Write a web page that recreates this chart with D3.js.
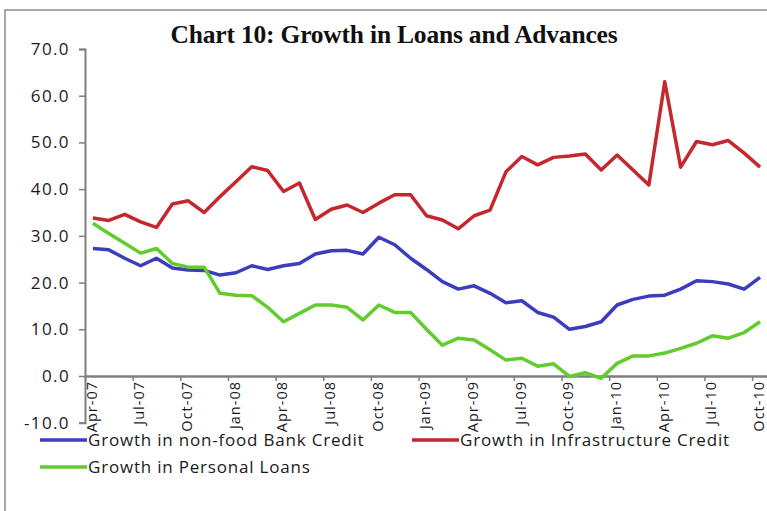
<!DOCTYPE html>
<html>
<head>
<meta charset="utf-8">
<script src="https://cdn.jsdelivr.net/npm/d3@7"></script>
<style>
  body { margin: 0; background: #fff; }
  svg text { font-family: "Open Sans", "Noto Sans", sans-serif; }
</style>
</head>
<body>
<div id="chart"></div>
<script>
// months Apr-07 .. Oct-10
var months = ["Apr-07","May-07","Jun-07","Jul-07","Aug-07","Sep-07","Oct-07","Nov-07","Dec-07",
    "Jan-08","Feb-08","Mar-08","Apr-08","May-08","Jun-08","Jul-08","Aug-08","Sep-08","Oct-08","Nov-08","Dec-08",
    "Jan-09","Feb-09","Mar-09","Apr-09","May-09","Jun-09","Jul-09","Aug-09","Sep-09","Oct-09","Nov-09","Dec-09",
    "Jan-10","Feb-10","Mar-10","Apr-10","May-10","Jun-10","Jul-10","Aug-10","Sep-10","Oct-10"];

var bankCredit = [27.3, 27.0, 25.2, 23.6, 25.2, 23.1, 22.7, 22.6, 21.6, 22.1, 23.6, 22.8, 23.6, 24.1, 26.1,
    26.8, 26.9, 26.1, 29.7, 28.1, 25.2, 22.8, 20.2, 18.6, 19.3, 17.7, 15.7, 16.1, 13.6, 12.6, 10.0, 10.6,
    11.6, 15.2, 16.4, 17.1, 17.3, 18.6, 20.4, 20.2, 19.7, 18.6, 21.1];

var infraCredit = [33.8, 33.3, 34.6, 33.0, 31.8, 36.8, 37.5, 35.0, 38.4, 41.6, 44.8, 44.0, 39.5, 41.3, 33.5,
    35.7, 36.6, 35.0, 37.0, 38.8, 38.8, 34.3, 33.4, 31.5, 34.3, 35.5, 43.7, 47.0, 45.2, 46.8, 47.1, 47.5,
    44.1, 47.3, 44.1, 40.9, 63.0, 44.7, 50.2, 49.5, 50.4, 47.7, 44.7];

var personalLoans = [32.7, 30.5, 28.4, 26.3, 27.3, 24.1, 23.3, 23.3, 17.7, 17.3, 17.2, 14.7, 11.6, 13.4, 15.2,
    15.2, 14.7, 12.0, 15.2, 13.6, 13.6, 10.0, 6.6, 8.1, 7.7, 5.6, 3.4, 3.8, 2.1, 2.6, -0.1, 0.7,
    -0.5, 2.7, 4.3, 4.3, 4.9, 5.9, 7.0, 8.6, 8.1, 9.3, 11.6];

var yTicks = [-10, 0, 10, 20, 30, 40, 50, 60, 70];

var series = [
    { name: "Growth in non-food Bank Credit", values: bankCredit, color: "#3b3dbd" },
    { name: "Growth in Infrastructure Credit", values: infraCredit, color: "#c4282e" },
    { name: "Growth in Personal Loans", values: personalLoans, color: "#62cc2c" }
];

var width = 767, height = 511;

var svg = d3.select("#chart")
    .append("svg")
    .attr("width", width)
    .attr("height", height);

// outer frame
svg.append("rect")
    .attr("x", 5).attr("y", 10)
    .attr("width", 800).attr("height", 600)
    .attr("fill", "none")
    .attr("stroke", "#8c8c8c")
    .attr("stroke-width", 1.5);

// title
svg.append("text")
    .attr("x", 394)
    .attr("y", 43)
    .attr("text-anchor", "middle")
    .style("font-family", "'Liberation Serif', 'DejaVu Serif', serif")
    .style("font-weight", "bold")
    .style("font-size", "25.5px")
    .style("letter-spacing", "-0.2px")
    .attr("fill", "#111")
    .text("Chart 10: Growth in Loans and Advances");

// scales
var x = d3.scaleBand()
    .domain(months)
    .range([85, 768]);

var xi = d3.scaleLinear()
    .domain([0, months.length])
    .range([85, 768]);

var y = d3.scaleLinear()
    .domain([-10, 70])
    .range([422.7, 49]);

// Y axis
var yAxis = svg.append("g")
    .attr("transform", "translate(85,0)")
    .call(d3.axisLeft(y).tickValues(yTicks).tickSize(6).tickPadding(9)
        .tickFormat(function (d) { return d.toFixed(1); }));
yAxis.select(".domain").attr("stroke", "#7f7f7f").attr("stroke-width", 2);
yAxis.selectAll(".tick line").attr("stroke", "#7f7f7f").attr("stroke-width", 1.5);
yAxis.selectAll(".tick text")
    .style("font-size", "17px")
    .style("letter-spacing", "1.4px")
    .attr("fill", "#1a1a1a");

// X axis at zero
var tickIdx = d3.range(0, months.length, 3);
var xAxis = svg.append("g")
    .attr("transform", "translate(0," + y(0) + ")")
    .call(d3.axisBottom(xi).tickValues(tickIdx).tickSize(5).tickSizeOuter(0).tickFormat(""));
xAxis.select(".domain").attr("stroke", "#7f7f7f").attr("stroke-width", 2.5);
xAxis.selectAll(".tick line").attr("stroke", "#7f7f7f").attr("stroke-width", 1.5);

// rotated month labels
svg.append("g")
    .selectAll("text")
    .data(tickIdx)
    .enter()
    .append("text")
    .attr("transform", function (d) {
        return "translate(" + (x(months[d]) + x.bandwidth() / 2 - 1) + "," + (y(0) + 5) + ") rotate(-90)";
    })
    .attr("dy", "0.33em")
    .attr("text-anchor", "end")
    .style("font-size", "14.5px")
    .style("letter-spacing", "1px")
    .attr("fill", "#1a1a1a")
    .text(function (d) { return months[d]; });

// lines
var line = d3.line()
    .x(function (d, i) { return x(months[i]) + x.bandwidth() / 2; })
    .y(function (d) { return y(d); });

svg.selectAll(".series")
    .data(series)
    .enter()
    .append("path")
    .attr("class", "series")
    .attr("d", function (d) { return line(d.values); })
    .attr("fill", "none")
    .attr("stroke", function (d) { return d.color; })
    .attr("stroke-width", 3.5)
    .attr("stroke-linejoin", "round");

// legend
var legendPos = [[40, 440], [412, 440], [40, 467]];
var legend = svg.selectAll(".legend")
    .data(series)
    .enter().append("g")
    .attr("class", "legend")
    .attr("transform", function (d, i) { return "translate(" + legendPos[i][0] + "," + legendPos[i][1] + ")"; });

legend.append("line")
    .attr("x1", 0).attr("x2", 47)
    .attr("y1", 0).attr("y2", 0)
    .attr("stroke", function (d) { return d.color; })
    .attr("stroke-width", 3.5);

legend.append("text")
    .attr("x", 48)
    .attr("dy", "0.35em")
    .style("font-size", "17px")
    .style("letter-spacing", "0.8px")
    .attr("fill", "#1a1a1a")
    .text(function (d) { return d.name; });
</script>
</body>
</html>
